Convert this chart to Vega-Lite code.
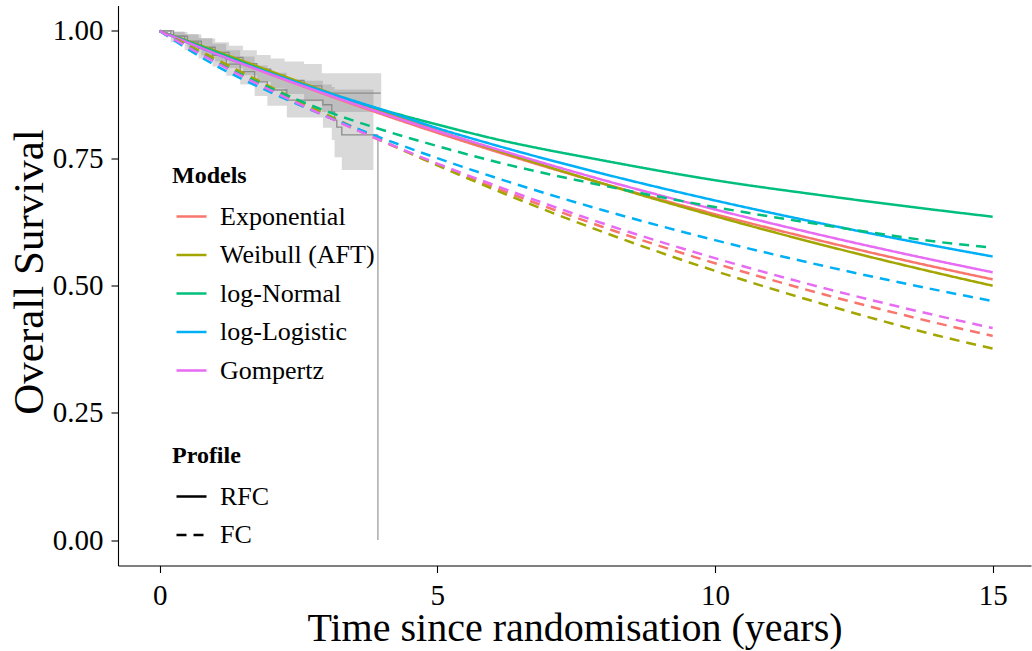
{
  "$schema": "https://vega.github.io/schema/vega-lite/v6.json",
  "width": 913,
  "height": 560,
  "autosize": {"type": "none"},
  "padding": {"left": 118, "top": 5.5, "right": 1, "bottom": 85.5},
  "background": "white",
  "config": {
    "view": {"stroke": null},
    "font": "Liberation Serif",
    "axis": {
      "grid": false, "domainColor": "black", "domainWidth": 1.1, "tickColor": "black", "tickWidth": 1.1, "tickSize": 7,
      "labelFont": "Liberation Serif", "labelFontSize": 29, "labelColor": "black",
      "titleFont": "Liberation Serif", "titleFontSize": 41, "titleFontWeight": "normal", "titleColor": "black"
    },
    "legend": {
      "labelFont": "Liberation Serif", "labelFontSize": 26, "labelColor": "black", "labelLimit": 400,
      "titleFont": "Liberation Serif", "titleFontSize": 24, "titleFontWeight": "bold", "titleColor": "black",
      "symbolSize": 900, "symbolStrokeWidth": 2.5, "symbolType": "stroke", "labelOffset": 12,
      "rowPadding": 8.5, "titlePadding": 12, "padding": 0, "symbolOffset": 3
    }
  },
  "datasets": {
    "curves": [
      {"model": "Exponential", "profile": "RFC", "t": 0, "s": 1}, {"model": "Exponential", "profile": "RFC", "t": 1, "s": 0.9564}, {"model": "Exponential", "profile": "RFC", "t": 2, "s": 0.9146}, {"model": "Exponential", "profile": "RFC", "t": 3, "s": 0.8747}, {"model": "Exponential", "profile": "RFC", "t": 4, "s": 0.8365}, {"model": "Exponential", "profile": "RFC", "t": 5, "s": 0.8}, {"model": "Exponential", "profile": "RFC", "t": 6, "s": 0.7651}, {"model": "Exponential", "profile": "RFC", "t": 8, "s": 0.6998}, {"model": "Exponential", "profile": "RFC", "t": 10, "s": 0.6401}, {"model": "Exponential", "profile": "RFC", "t": 12, "s": 0.5854}, {"model": "Exponential", "profile": "RFC", "t": 14, "s": 0.5354}, {"model": "Exponential", "profile": "RFC", "t": 15, "s": 0.5121},
      {"model": "Weibull (AFT)", "profile": "RFC", "t": 0, "s": 1}, {"model": "Weibull (AFT)", "profile": "RFC", "t": 1, "s": 0.961}, {"model": "Weibull (AFT)", "profile": "RFC", "t": 2, "s": 0.9207}, {"model": "Weibull (AFT)", "profile": "RFC", "t": 3, "s": 0.8809}, {"model": "Weibull (AFT)", "profile": "RFC", "t": 4, "s": 0.8421}, {"model": "Weibull (AFT)", "profile": "RFC", "t": 5, "s": 0.8045}, {"model": "Weibull (AFT)", "profile": "RFC", "t": 6, "s": 0.7682}, {"model": "Weibull (AFT)", "profile": "RFC", "t": 8, "s": 0.6995}, {"model": "Weibull (AFT)", "profile": "RFC", "t": 10, "s": 0.6362}, {"model": "Weibull (AFT)", "profile": "RFC", "t": 12, "s": 0.5779}, {"model": "Weibull (AFT)", "profile": "RFC", "t": 14, "s": 0.5245}, {"model": "Weibull (AFT)", "profile": "RFC", "t": 15, "s": 0.4996},
      {"model": "log-Normal", "profile": "RFC", "t": 0, "s": 1}, {"model": "log-Normal", "profile": "RFC", "t": 1, "s": 0.959}, {"model": "log-Normal", "profile": "RFC", "t": 2, "s": 0.917}, {"model": "log-Normal", "profile": "RFC", "t": 3, "s": 0.878}, {"model": "log-Normal", "profile": "RFC", "t": 4, "s": 0.8454}, {"model": "log-Normal", "profile": "RFC", "t": 5, "s": 0.8162}, {"model": "log-Normal", "profile": "RFC", "t": 6, "s": 0.7889}, {"model": "log-Normal", "profile": "RFC", "t": 8, "s": 0.7453}, {"model": "log-Normal", "profile": "RFC", "t": 10, "s": 0.7068}, {"model": "log-Normal", "profile": "RFC", "t": 12, "s": 0.676}, {"model": "log-Normal", "profile": "RFC", "t": 14, "s": 0.6481}, {"model": "log-Normal", "profile": "RFC", "t": 15, "s": 0.6351},
      {"model": "log-Logistic", "profile": "RFC", "t": 0, "s": 1}, {"model": "log-Logistic", "profile": "RFC", "t": 1, "s": 0.9556}, {"model": "log-Logistic", "profile": "RFC", "t": 2, "s": 0.9164}, {"model": "log-Logistic", "profile": "RFC", "t": 3, "s": 0.8798}, {"model": "log-Logistic", "profile": "RFC", "t": 4, "s": 0.8454}, {"model": "log-Logistic", "profile": "RFC", "t": 5, "s": 0.809}, {"model": "log-Logistic", "profile": "RFC", "t": 6, "s": 0.777}, {"model": "log-Logistic", "profile": "RFC", "t": 8, "s": 0.719}, {"model": "log-Logistic", "profile": "RFC", "t": 10, "s": 0.667}, {"model": "log-Logistic", "profile": "RFC", "t": 12, "s": 0.62}, {"model": "log-Logistic", "profile": "RFC", "t": 14, "s": 0.577}, {"model": "log-Logistic", "profile": "RFC", "t": 15, "s": 0.557},
      {"model": "Gompertz", "profile": "RFC", "t": 0, "s": 1}, {"model": "Gompertz", "profile": "RFC", "t": 1, "s": 0.9558}, {"model": "Gompertz", "profile": "RFC", "t": 2, "s": 0.9147}, {"model": "Gompertz", "profile": "RFC", "t": 3, "s": 0.8757}, {"model": "Gompertz", "profile": "RFC", "t": 4, "s": 0.8387}, {"model": "Gompertz", "profile": "RFC", "t": 5, "s": 0.8034}, {"model": "Gompertz", "profile": "RFC", "t": 6, "s": 0.7701}, {"model": "Gompertz", "profile": "RFC", "t": 8, "s": 0.7068}, {"model": "Gompertz", "profile": "RFC", "t": 10, "s": 0.6493}, {"model": "Gompertz", "profile": "RFC", "t": 12, "s": 0.5967}, {"model": "Gompertz", "profile": "RFC", "t": 14, "s": 0.5485}, {"model": "Gompertz", "profile": "RFC", "t": 15, "s": 0.526},
      {"model": "Exponential", "profile": "FC", "t": 0, "s": 1}, {"model": "Exponential", "profile": "FC", "t": 1, "s": 0.9409}, {"model": "Exponential", "profile": "FC", "t": 2, "s": 0.8853}, {"model": "Exponential", "profile": "FC", "t": 3, "s": 0.8329}, {"model": "Exponential", "profile": "FC", "t": 4, "s": 0.7837}, {"model": "Exponential", "profile": "FC", "t": 5, "s": 0.7374}, {"model": "Exponential", "profile": "FC", "t": 6, "s": 0.6938}, {"model": "Exponential", "profile": "FC", "t": 8, "s": 0.6142}, {"model": "Exponential", "profile": "FC", "t": 10, "s": 0.5437}, {"model": "Exponential", "profile": "FC", "t": 12, "s": 0.4813}, {"model": "Exponential", "profile": "FC", "t": 14, "s": 0.4261}, {"model": "Exponential", "profile": "FC", "t": 15, "s": 0.4009},
      {"model": "Weibull (AFT)", "profile": "FC", "t": 0, "s": 1}, {"model": "Weibull (AFT)", "profile": "FC", "t": 1, "s": 0.9455}, {"model": "Weibull (AFT)", "profile": "FC", "t": 2, "s": 0.89}, {"model": "Weibull (AFT)", "profile": "FC", "t": 3, "s": 0.8363}, {"model": "Weibull (AFT)", "profile": "FC", "t": 4, "s": 0.7849}, {"model": "Weibull (AFT)", "profile": "FC", "t": 5, "s": 0.736}, {"model": "Weibull (AFT)", "profile": "FC", "t": 6, "s": 0.6896}, {"model": "Weibull (AFT)", "profile": "FC", "t": 8, "s": 0.6044}, {"model": "Weibull (AFT)", "profile": "FC", "t": 10, "s": 0.5287}, {"model": "Weibull (AFT)", "profile": "FC", "t": 12, "s": 0.4618}, {"model": "Weibull (AFT)", "profile": "FC", "t": 14, "s": 0.4019}, {"model": "Weibull (AFT)", "profile": "FC", "t": 15, "s": 0.3761},
      {"model": "log-Normal", "profile": "FC", "t": 0, "s": 1}, {"model": "log-Normal", "profile": "FC", "t": 1, "s": 0.94}, {"model": "log-Normal", "profile": "FC", "t": 2, "s": 0.8872}, {"model": "log-Normal", "profile": "FC", "t": 3, "s": 0.8425}, {"model": "log-Normal", "profile": "FC", "t": 4, "s": 0.806}, {"model": "log-Normal", "profile": "FC", "t": 5, "s": 0.7739}, {"model": "log-Normal", "profile": "FC", "t": 6, "s": 0.7444}, {"model": "log-Normal", "profile": "FC", "t": 8, "s": 0.696}, {"model": "log-Normal", "profile": "FC", "t": 10, "s": 0.654}, {"model": "log-Normal", "profile": "FC", "t": 12, "s": 0.618}, {"model": "log-Normal", "profile": "FC", "t": 14, "s": 0.5859}, {"model": "log-Normal", "profile": "FC", "t": 15, "s": 0.5741},
      {"model": "log-Logistic", "profile": "FC", "t": 0, "s": 1}, {"model": "log-Logistic", "profile": "FC", "t": 1, "s": 0.9326}, {"model": "log-Logistic", "profile": "FC", "t": 2, "s": 0.8795}, {"model": "log-Logistic", "profile": "FC", "t": 3, "s": 0.8324}, {"model": "log-Logistic", "profile": "FC", "t": 4, "s": 0.7896}, {"model": "log-Logistic", "profile": "FC", "t": 5, "s": 0.7501}, {"model": "log-Logistic", "profile": "FC", "t": 6, "s": 0.7135}, {"model": "log-Logistic", "profile": "FC", "t": 8, "s": 0.6474}, {"model": "log-Logistic", "profile": "FC", "t": 10, "s": 0.5891}, {"model": "log-Logistic", "profile": "FC", "t": 12, "s": 0.5373}, {"model": "log-Logistic", "profile": "FC", "t": 14, "s": 0.4909}, {"model": "log-Logistic", "profile": "FC", "t": 15, "s": 0.4695},
      {"model": "Gompertz", "profile": "FC", "t": 0, "s": 1}, {"model": "Gompertz", "profile": "FC", "t": 1, "s": 0.9386}, {"model": "Gompertz", "profile": "FC", "t": 2, "s": 0.8833}, {"model": "Gompertz", "profile": "FC", "t": 3, "s": 0.832}, {"model": "Gompertz", "profile": "FC", "t": 4, "s": 0.7842}, {"model": "Gompertz", "profile": "FC", "t": 5, "s": 0.7395}, {"model": "Gompertz", "profile": "FC", "t": 6, "s": 0.6981}, {"model": "Gompertz", "profile": "FC", "t": 8, "s": 0.6212}, {"model": "Gompertz", "profile": "FC", "t": 10, "s": 0.5537}, {"model": "Gompertz", "profile": "FC", "t": 12, "s": 0.4939}, {"model": "Gompertz", "profile": "FC", "t": 14, "s": 0.4407}, {"model": "Gompertz", "profile": "FC", "t": 15, "s": 0.4164}
    ],
    "km": [
      {"arm": "RFC", "t": 0, "s": 1}, {"arm": "RFC", "t": 0.25, "s": 0.99}, {"arm": "RFC", "t": 0.5, "s": 0.98}, {"arm": "RFC", "t": 0.75, "s": 0.968}, {"arm": "RFC", "t": 1.0, "s": 0.958}, {"arm": "RFC", "t": 1.25, "s": 0.948}, {"arm": "RFC", "t": 1.5, "s": 0.936}, {"arm": "RFC", "t": 1.75, "s": 0.925}, {"arm": "RFC", "t": 2.0, "s": 0.913}, {"arm": "RFC", "t": 2.25, "s": 0.903}, {"arm": "RFC", "t": 2.6, "s": 0.892}, {"arm": "RFC", "t": 2.92, "s": 0.878}, {"arm": "RFC", "t": 3.98, "s": 0.878},
      {"arm": "FC", "t": 0, "s": 1}, {"arm": "FC", "t": 0.2, "s": 0.99}, {"arm": "FC", "t": 0.45, "s": 0.978}, {"arm": "FC", "t": 0.7, "s": 0.966}, {"arm": "FC", "t": 0.95, "s": 0.952}, {"arm": "FC", "t": 1.2, "s": 0.935}, {"arm": "FC", "t": 1.45, "s": 0.92}, {"arm": "FC", "t": 1.71, "s": 0.9}, {"arm": "FC", "t": 1.94, "s": 0.884}, {"arm": "FC", "t": 2.29, "s": 0.864}, {"arm": "FC", "t": 2.94, "s": 0.855}, {"arm": "FC", "t": 3.1, "s": 0.841}, {"arm": "FC", "t": 3.15, "s": 0.825}, {"arm": "FC", "t": 3.19, "s": 0.811}, {"arm": "FC", "t": 3.28, "s": 0.796}, {"arm": "FC", "t": 3.93, "s": 0.796}
    ],
    "band": [
      {"arm": "RFC", "t": 0, "lo": 1, "hi": 1}, {"arm": "RFC", "t": 0.25, "lo": 0.982, "hi": 0.998}, {"arm": "RFC", "t": 0.5, "lo": 0.968, "hi": 0.993}, {"arm": "RFC", "t": 0.75, "lo": 0.952, "hi": 0.985}, {"arm": "RFC", "t": 1.0, "lo": 0.94, "hi": 0.978}, {"arm": "RFC", "t": 1.25, "lo": 0.927, "hi": 0.971}, {"arm": "RFC", "t": 1.5, "lo": 0.913, "hi": 0.962}, {"arm": "RFC", "t": 1.75, "lo": 0.9, "hi": 0.953}, {"arm": "RFC", "t": 2.0, "lo": 0.887, "hi": 0.946}, {"arm": "RFC", "t": 2.25, "lo": 0.876, "hi": 0.94}, {"arm": "RFC", "t": 2.6, "lo": 0.862, "hi": 0.935}, {"arm": "RFC", "t": 2.92, "lo": 0.841, "hi": 0.917}, {"arm": "RFC", "t": 3.99, "lo": 0.841, "hi": 0.917},
      {"arm": "FC", "t": 0, "lo": 1, "hi": 1}, {"arm": "FC", "t": 0.2, "lo": 0.978, "hi": 0.999}, {"arm": "FC", "t": 0.45, "lo": 0.962, "hi": 0.994}, {"arm": "FC", "t": 0.7, "lo": 0.946, "hi": 0.986}, {"arm": "FC", "t": 0.95, "lo": 0.93, "hi": 0.975}, {"arm": "FC", "t": 1.2, "lo": 0.912, "hi": 0.962}, {"arm": "FC", "t": 1.45, "lo": 0.895, "hi": 0.95}, {"arm": "FC", "t": 1.71, "lo": 0.872, "hi": 0.932}, {"arm": "FC", "t": 1.94, "lo": 0.853, "hi": 0.918}, {"arm": "FC", "t": 2.29, "lo": 0.83, "hi": 0.902}, {"arm": "FC", "t": 2.94, "lo": 0.81, "hi": 0.895}, {"arm": "FC", "t": 3.1, "lo": 0.786, "hi": 0.89}, {"arm": "FC", "t": 3.15, "lo": 0.752, "hi": 0.885}, {"arm": "FC", "t": 3.28, "lo": 0.727, "hi": 0.885}, {"arm": "FC", "t": 3.85, "lo": 0.727, "hi": 0.885}
    ],
    "drop": [{"t": 3.93, "a": 0, "b": 0.796}]
  },
  "layer": [
    {
      "data": {"name": "band"},
      "mark": {"type": "area", "interpolate": "step-after", "fill": "#808080", "opacity": 0.3},
      "encoding": {
        "x": {"field": "t", "type": "quantitative", "title": "Time since randomisation (years)", "scale": {"domain": [-0.75, 15.69], "nice": false, "zero": false}, "axis": {"values": [0, 5, 10, 15], "labelPadding": 9, "titleY": 75, "titleFontSize": 40, "titleBaseline": "alphabetic"}},
        "y": {"field": "lo", "type": "quantitative", "title": "Overall Survival", "stack": null, "scale": {"domain": [-0.05, 1.05], "nice": false, "zero": false}, "axis": {"values": [0, 0.25, 0.5, 0.75, 1], "format": ".2f", "labelPadding": 8, "titleX": -76, "titleY": 266, "titleFontSize": 43, "titleBaseline": "alphabetic"}},
        "y2": {"field": "hi"},
        "detail": {"field": "arm"}
      }
    },
    {
      "mark": {"type": "rule", "color": "#a6a6a6", "strokeWidth": 1.5, "strokeDash": [2.5, 8]},
      "encoding": {"y": {"datum": 0.5}}
    },
    {
      "data": {"name": "km"},
      "mark": {"type": "line", "interpolate": "step-after", "color": "#8c8c8c", "strokeWidth": 1.3},
      "encoding": {
        "x": {"field": "t", "type": "quantitative", "title": "Time since randomisation (years)"},
        "y": {"field": "s", "type": "quantitative", "title": "Overall Survival"},
        "detail": {"field": "arm"}
      }
    },
    {
      "data": {"name": "drop"},
      "mark": {"type": "rule", "color": "#ababab", "strokeWidth": 1.5},
      "encoding": {
        "x": {"field": "t", "type": "quantitative", "title": "Time since randomisation (years)"},
        "y": {"field": "a", "type": "quantitative", "title": "Overall Survival"},
        "y2": {"field": "b"}
      }
    },
    {
      "data": {"name": "curves"},
      "mark": {"type": "line", "interpolate": "monotone", "strokeWidth": 2.5},
      "encoding": {
        "x": {"field": "t", "type": "quantitative", "title": "Time since randomisation (years)"},
        "y": {"field": "s", "type": "quantitative", "title": "Overall Survival"},
        "color": {
          "field": "model", "type": "nominal",
          "scale": {"domain": ["Exponential", "Weibull (AFT)", "log-Normal", "log-Logistic", "Gompertz"], "range": ["#F8766D", "#A3A500", "#00BF7D", "#00B0F6", "#E76BF3"]},
          "legend": {"title": "Models", "orient": "none", "legendX": 54, "legendY": 158.5}
        },
        "strokeDash": {
          "field": "profile", "type": "nominal",
          "scale": {"domain": ["RFC", "FC"], "range": [[1, 0], [10, 7]]},
          "legend": {"title": "Profile", "orient": "none", "legendX": 54, "legendY": 438.5, "symbolStrokeColor": "black"}
        }
      }
    }
  ]
}
